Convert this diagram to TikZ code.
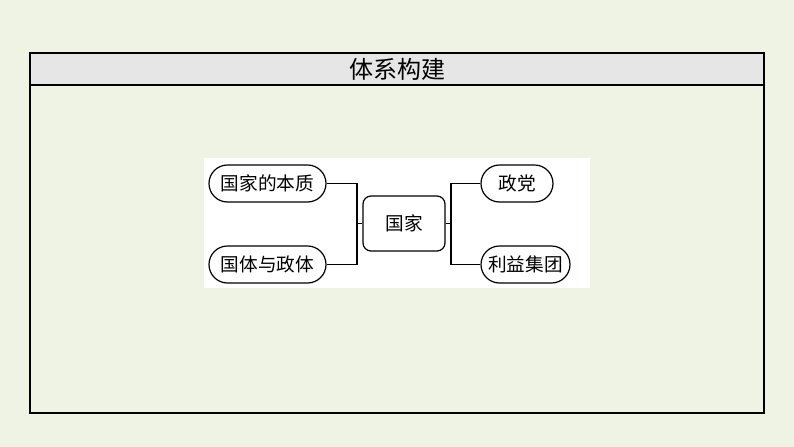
\documentclass[tikz,border=0pt]{standalone}
\usepackage{fontspec}
\newfontfamily\cjk{Noto Sans CJK SC}
\definecolor{bgc}{HTML}{EEF3E3}
\definecolor{hdc}{HTML}{E6E6E6}
\begin{document}
\begin{tikzpicture}[x=0.75pt,y=-0.75pt,
  pill/.style={draw,line width=0.9pt,rounded corners=18.5*0.75pt,minimum height=37*0.75pt,inner sep=0pt,font=\cjk\fontsize{14}{15}\selectfont},
  centerbox/.style={draw,line width=0.9pt,rounded corners=8*0.75pt,minimum width=82*0.75pt,minimum height=55*0.75pt,inner sep=0pt,font=\cjk\fontsize{14}{15}\selectfont},
  link/.style={line width=0.9pt}]
\useasboundingbox (0,0) rectangle (794,447);
\fill[bgc] (0,0) rectangle (794,447);
\fill[hdc] (30,53) rectangle (764,85);
\draw[line width=0.8pt] (30,53) rectangle (764,413);
\draw[line width=0.9pt] (30,85) -- (764,85);
\node[font=\cjk\fontsize{18}{19}\selectfont] (title) at (397,69.5) {体系构建};
\fill[white] (204,158) rectangle (590,288);
\node[pill,minimum width=117*0.75pt] (a) at (267.5,183.5) {国家的本质};
\node[pill,minimum width=117*0.75pt] (b) at (267.5,264.5) {国体与政体};
\node[centerbox] (c) at (404,223.5) {国家};
\node[pill,minimum width=72*0.75pt] (d) at (517,183.5) {政党};
\node[pill,minimum width=89*0.75pt] (e) at (525.5,264.5) {利益集团};
\coordinate (jl) at (357,223.5);
\coordinate (jr) at (451,223.5);
\draw[link] (a.east) -| (jl) |- (b.east);
\draw[link] (jl) -- (c.west);
\draw[link] (c.east) -- (jr);
\draw[link] (d.west) -| (jr) |- (e.west);
\end{tikzpicture}
\end{document}
